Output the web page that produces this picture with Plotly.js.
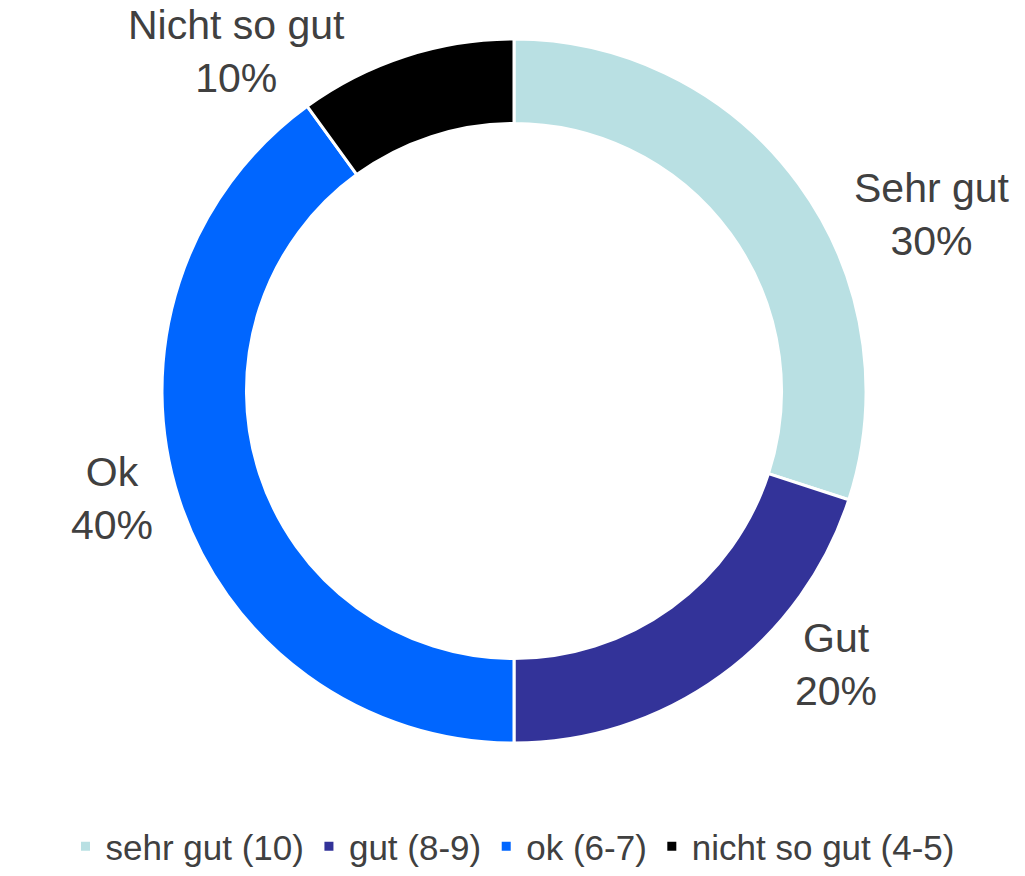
<!DOCTYPE html>
<html>
<head>
<meta charset="utf-8">
<script src="https://cdn.plot.ly/plotly-3.0.1.min.js"></script>
<style>html,body{margin:0;padding:0;background:#fff;}#chart{width:1025px;height:876px;}</style>
</head>
<body>
<div id="chart"></div>
<script>
const categories = ["sehr gut (10)", "gut (8-9)", "ok (6-7)", "nicht so gut (4-5)"];
const sliceLabels = ["Sehr gut", "Gut", "Ok", "Nicht so gut"];
const values = [30, 20, 40, 10];
const colors = ["#B9E0E3", "#333399", "#0066FF", "#000000"];

const W = 1025, H = 876;
const cx = 514, cy = 391, R = 352;
const FONT = "Liberation Sans, Arial, sans-serif";
const TEXT = "#404040";

// label placement (pixel centres) for the outside data labels
const labelPlace = [[932, 214], [836, 664], [112, 498], [236, 52]];

const total = values.reduce((a, b) => a + b, 0);

const trace = {
  type: "pie",
  labels: categories,
  values: values,
  textinfo: "none",
  hole: 0.76,
  sort: false,
  direction: "clockwise",
  rotation: 0,
  marker: {colors: colors, line: {color: "#ffffff", width: 3}},
  domain: {x: [(cx - R) / W, (cx + R) / W], y: [(H - cy - R) / H, (H - cy + R) / H]},
  hoverinfo: "label+percent"
};

const annotations = sliceLabels.map((name, i) => ({
  xref: "paper", yref: "paper",
  x: labelPlace[i][0] / W, y: 1 - labelPlace[i][1] / H,
  xanchor: "center", yanchor: "middle",
  text: name + "<br>" + Math.round(values[i] / total * 100) + "%",
  showarrow: false,
  align: "center",
  font: {family: FONT, size: 41, color: TEXT}
}));

const layout = {
  width: W, height: H,
  margin: {l: 0, r: 0, t: 0, b: 0, autoexpand: false},
  paper_bgcolor: "#ffffff",
  showlegend: true,
  legend: {
    orientation: "h", x: 0.5, xanchor: "center", y: 0, yanchor: "bottom",
    font: {family: FONT, size: 35, color: TEXT},
    itemwidth: 30, traceorder: "normal"
  },
  annotations: annotations,
  font: {family: FONT, color: TEXT}
};

Plotly.newPlot("chart", [trace], layout, {displayModeBar: false, staticPlot: true});
</script>
</body>
</html>
